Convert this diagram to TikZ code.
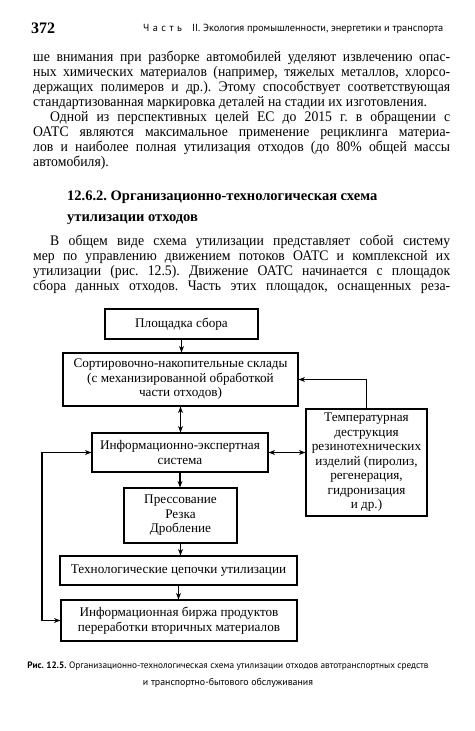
\documentclass[tikz,border=0pt]{standalone}
\usepackage{fontspec}
\setmainfont{Liberation Serif}
\newfontfamily\bodyfont{Liberation Serif}[FakeStretch=0.94]
\newfontfamily\capfont{PT Sans}
\usetikzlibrary{arrows.meta}
\frenchspacing
\tikzset{
  box/.style={draw, line width=1.1pt, inner sep=0pt, align=center,
    font=\fontsize{13.2}{14.5}\selectfont},
  tip/.tip={Stealth[length=6.5pt,width=5pt]},
  arr/.style={line width=1.1pt, -tip},
  arrr/.style={line width=1.1pt, tip-tip},
  bodytxt/.style={inner sep=0pt, anchor=base west, font=\bodyfont\fontsize{14.6}{15}\selectfont},
  headtxt/.style={inner sep=0pt, anchor=base west, font=\fontsize{14.5}{15}\selectfont\bfseries},
  smalltxt/.style={inner sep=0pt, anchor=base west, font=\capfont\fontsize{10}{12}\selectfont},
}
% justified line: name, x, baseline, width, text
\newcommand\jl[5]{\node[bodytxt] (#1) at (#2,#3) {\makebox[#4][s]{#5}};}
% left line
\newcommand\lline[4]{\node[bodytxt] (#1) at (#2,#3) {#4};}
\begin{document}
\begin{tikzpicture}[x=1pt,y=-1pt]
\useasboundingbox (0,0) rectangle (474,731);

% running head
\node[inner sep=0pt, anchor=base west, font=\fontsize{16}{18}\selectfont\bfseries] (pg) at (31,33) {372};
\node[smalltxt] (hdr) at (143,31) {\resizebox{300pt}{!}{Ч\,\,а\,\,с\,\,т\,\,ь\quad II. Экология промышленности, энергетики и транспорта}};

% paragraph 1
\jl{l1}{33}{61}{417pt}{ше внимания при разборке автомобилей уделяют извлечению опас-}
\jl{l2}{33}{76}{417pt}{ных химических материалов (например, тяжелых металлов, хлорсо-}
\jl{l3}{33}{91}{417pt}{держащих полимеров и др.). Этому способствует соответствующая}
\lline{l4}{33}{106}{стандартизованная маркировка деталей на стадии их изготовления.}
% paragraph 2
\jl{l5}{50}{121}{400pt}{Одной из перспективных целей ЕС до 2015 г. в обращении с}
\jl{l6}{33}{136}{417pt}{ОАТС являются максимальное применение рециклинга материа-}
\jl{l7}{33}{151}{417pt}{лов и наиболее полная утилизация отходов (до 80\% общей массы}
\lline{l8}{33}{166}{автомобиля).}
% heading
\node[headtxt] (h1) at (67,200) {12.6.2. Организационно-технологическая схема};
\node[headtxt] (h2) at (67,221) {утилизации отходов};
% paragraph 3
\jl{l9}{50}{245}{400pt}{В общем виде схема утилизации представляет собой систему}
\jl{l10}{33}{260}{417pt}{мер по управлению движением потоков ОАТС и комплексной их}
\jl{l11}{33}{275}{417pt}{утилизации (рис. 12.5). Движение ОАТС начинается с площадок}
\jl{l12}{33}{290}{417pt}{сбора данных отходов. Часть этих площадок, оснащенных реза-}

% diagram
\node[box, minimum width=153pt, minimum height=30pt] (b1) at (181.5,324) {Площадка сбора};
\node[box, minimum width=235pt, minimum height=53pt] (b2) at (180.5,379.5)
  {Сортировочно-накопительные склады\\(с механизированной обработкой\\части отходов)};
\node[box, minimum width=176pt, minimum height=39pt] (b3) at (180,452.5)
  {Информационно-экспертная\\система};
\node[box, minimum width=113pt, minimum height=55pt] (b4) at (180.5,515.5)
  {Прессование\\Резка\\Дробление};
\node[box, minimum width=237pt, minimum height=29pt] (b5) at (178.5,570.5)
  {Технологические цепочки утилизации};
\node[box, minimum width=236pt, minimum height=41pt] (b6) at (179,620.5)
  {Информационная биржа продуктов\\переработки вторичных материалов};
\node[box, minimum width=121pt, minimum height=107pt] (b7) at (366.5,462.5)
  {Температурная\\деструкция\\резинотехнических\\изделий (пиролиз,\\регенерация,\\гидронизация\\и др.)};

\coordinate (lx) at (42,0);
\draw[arr] (b1.south) -- (b1.south |- b2.north);
\draw[arrr] (b2.south) -- (b2.south |- b3.north);
\draw[arr] (b3.south) -- (b3.south |- b4.north);
\draw[arr] (b4.south) -- (b4.south |- b5.north);
\draw[arr] (b5.south) -- (b5.south |- b6.north);
\draw[arr] (b7.north) |- (b2.east);
\draw[arrr] (b3.east) -- (b3.east -| b7.west);
\draw[arrr] (b3.west) -- (b3.west -| lx) -- (lx |- b6.west) -- (b6.west);

% caption
\node[inner sep=0pt, anchor=base, font=\capfont\fontsize{10}{12}\selectfont] (cap1) at (228,668)
  {\resizebox{401pt}{!}{\textbf{Рис. 12.5.} Организационно-технологическая схема утилизации отходов автотранспортных средств}};
\node[inner sep=0pt, anchor=base, font=\capfont\fontsize{10}{12}\selectfont] (cap2) at (228,685)
  {\resizebox{170pt}{!}{и транспортно-бытового обслуживания}};
\end{tikzpicture}
\end{document}
